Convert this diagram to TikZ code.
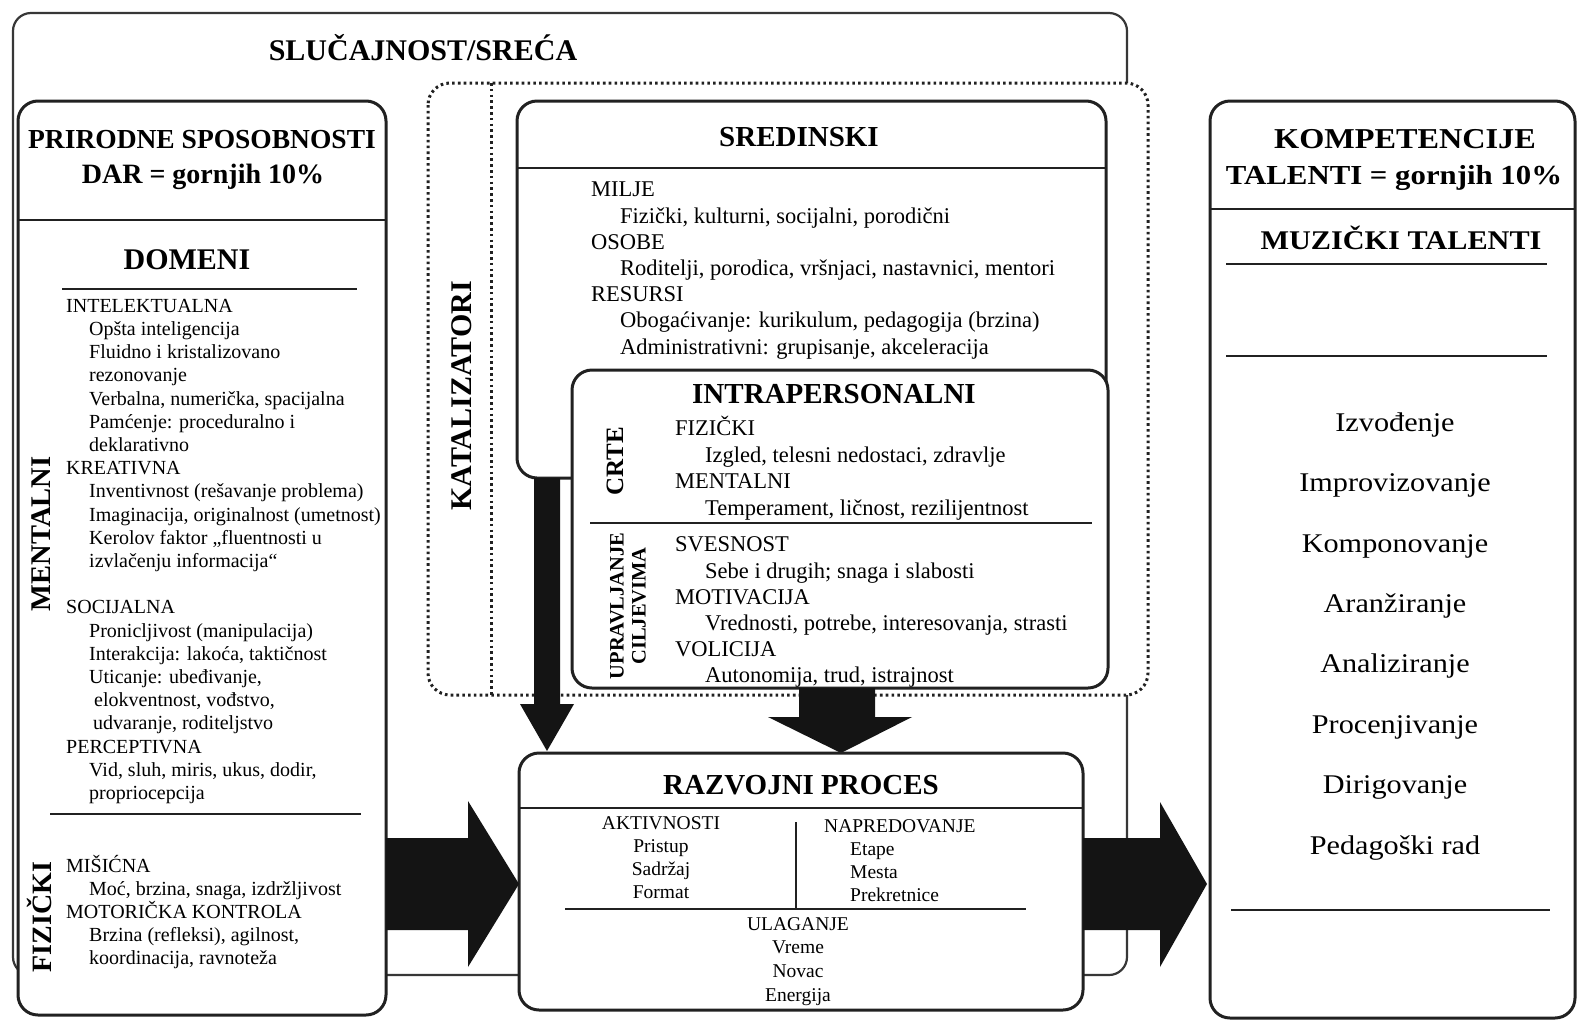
\documentclass[tikz,border=0pt]{standalone}
\usepackage{fontspec}
\setmainfont{Liberation Serif}
\newfontfamily\widefont[FakeStretch=1.12]{Liberation Serif}
\usetikzlibrary{calc}
\definecolor{ink}{gray}{0.13}
\begin{document}
\begin{tikzpicture}[x=1pt,y=-1pt,
  frame/.style={draw=ink, line width=3pt, fill=white, rounded corners=20pt, inner sep=0pt, outer sep=0pt},
  rule/.style={draw=ink, line width=2.6pt},
  thinrule/.style={draw=ink, line width=2pt},
  blockarrow/.style={fill=black!92},
  ttl/.style={font=\bfseries\fontsize{29}{32}\selectfont, anchor=base, inner sep=0pt},
  side/.style={font=\bfseries\fontsize{#1}{#1}\selectfont, rotate=90, anchor=base, inner sep=0pt},
  list/.style 2 args={font=\fontsize{#1}{#2}\selectfont, align=left, anchor=north west, inner sep=0pt},
  clist/.style 2 args={font=\fontsize{#1}{#2}\selectfont, align=center, anchor=north, inner sep=0pt},
]
\useasboundingbox[fill=white] (0,0) rectangle (1580,1021);

% chance: the outermost frame
\draw[draw=ink!90, line width=2.2pt, rounded corners=18pt] (13,13) rectangle (1127,975);
\node[ttl, font=\bfseries\fontsize{30}{32}\selectfont] (chance) at (423,60) {SLUČAJNOST/SREĆA};

% catalysts: dotted frame with its label column
\draw[draw=ink, line width=3pt, dash pattern=on 2.6pt off 3.2pt, fill=white, rounded corners=22pt] (428,83) rectangle (1148,695);
\coordinate (catTop) at (491,83);
\coordinate (catBot) at (491,695);
\draw[draw=ink, line width=3pt, dash pattern=on 2.6pt off 3.2pt] (catTop) -- (catBot);
\node[side=30] (cat) at (471,396) {KATALIZATORI};

% gifts
\node[frame, minimum width=368pt, minimum height=914pt, anchor=north west] (gift) at (18,101) {};
\draw[rule] (gift.west |- 0,220) -- (gift.east |- 0,220);
\node[ttl, font=\bfseries\fontsize{27.5}{32}\selectfont] (giftA) at (202,148.5) {PRIRODNE SPOSOBNOSTI};
\node[ttl, font=\bfseries\fontsize{28}{32}\selectfont] (giftB) at (203,183.5) {DAR = gornjih 10\%};
\node[ttl, font=\bfseries\fontsize{30}{32}\selectfont] (domeni) at (187,269) {DOMENI};
\draw[rule] (62,289) -- (357,289);
\draw[rule] (50,814) -- (361,814);
\node[side=28.5] (mental) at (50.5,534) {MENTALNI};
\node[side=28] (physical) at (51,917) {FIZIČKI};
\node[list={20}{23.2}] (mentalList) at (66,295.8) {\strut INTELEKTUALNA\\
\hspace*{23pt}Opšta inteligencija\\
\hspace*{23pt}Fluidno i kristalizovano\\
\hspace*{23pt}rezonovanje\\
\hspace*{23pt}Verbalna, numerička, spacijalna\\
\hspace*{23pt}Pamćenje: proceduralno i\\
\hspace*{23pt}deklarativno\\
KREATIVNA\\
\hspace*{23pt}Inventivnost (rešavanje problema)\\
\hspace*{23pt}Imaginacija, originalnost (umetnost)\\
\hspace*{23pt}Kerolov faktor „fluentnosti u\\
\hspace*{23pt}izvlačenju informacija“\\
\mbox{}\\
SOCIJALNA\\
\hspace*{23pt}Pronicljivost (manipulacija)\\
\hspace*{23pt}Interakcija: lakoća, taktičnost\\
\hspace*{23pt}Uticanje: ubeđivanje,\\
\hspace*{28pt}elokventnost, vođstvo,\\
\hspace*{27pt}udvaranje, roditeljstvo\\
PERCEPTIVNA\\
\hspace*{23pt}Vid, sluh, miris, ukus, dodir,\\
\hspace*{23pt}propriocepcija};
\node[list={20}{23}] (physList) at (66,855) {\strut MIŠIĆNA\\
\hspace*{23pt}Moć, brzina, snaga, izdržljivost\\
MOTORIČKA KONTROLA\\
\hspace*{23pt}Brzina (refleksi), agilnost,\\
\hspace*{23pt}koordinacija, ravnoteža};

% environmental catalysts
\node[frame, minimum width=589pt, minimum height=377pt, anchor=north west] (env) at (517,101) {};
\draw[rule] (env.west |- 0,168) -- (env.east |- 0,168);
\node[ttl] (envT) at (799,146) {SREDINSKI};
\node[list={22.5}{26.2}] (envList) at (591,178.4) {\strut MILJE\\
\hspace*{29pt}Fizički, kulturni, socijalni, porodični\\
OSOBE\\
\hspace*{29pt}Roditelji, porodica, vršnjaci, nastavnici, mentori\\
RESURSI\\
\hspace*{29pt}Obogaćivanje: kurikulum, pedagogija (brzina)\\
\hspace*{29pt}Administrativni: grupisanje, akceleracija};

% arrow from the environmental box down to the process
\coordinate (envOut) at (547,478);
\coordinate (devInL) at (547,751);
\fill[blockarrow] ($(envOut)+(-13,0)$) -- ($(envOut)+(13,0)$) -- ($(envOut)+(13,226)$) -- ($(envOut)+(27,226)$)
  -- (devInL) -- ($(envOut)+(-27,226)$) -- ($(envOut)+(-13,226)$) -- cycle;

% intrapersonal catalysts
\node[frame, minimum width=536pt, minimum height=318pt, anchor=north west] (intra) at (572,370) {};
\node[ttl] (intraT) at (834,403) {INTRAPERSONALNI};
\draw[thinrule] (590,523) -- (1092,523);
\node[side=25] (traits) at (623,461) {CRTE};
\node[font=\bfseries\fontsize{20.5}{22}\selectfont, rotate=90, align=center, inner sep=0pt] (goals) at (628,606) {UPRAVLJANJE\\CILJEVIMA};
\node[list={22.5}{26.7}] (traitList) at (675,416) {\strut FIZIČKI\\
\hspace*{30pt}Izgled, telesni nedostaci, zdravlje\\
MENTALNI\\
\hspace*{30pt}Temperament, ličnost, rezilijentnost};
\node[list={22.5}{26.2}] (goalList) at (675,533.4) {\strut SVESNOST\\
\hspace*{30pt}Sebe i drugih; snaga i slabosti\\
MOTIVACIJA\\
\hspace*{30pt}Vrednosti, potrebe, interesovanja, strasti\\
VOLICIJA\\
\hspace*{30pt}Autonomija, trud, istrajnost};

% arrow from the intrapersonal box down to the process
\coordinate (intraOut) at (837,688);
\coordinate (devInM) at (841,753);
\fill[blockarrow] ($(intraOut)+(-38,0)$) -- ($(intraOut)+(38,0)$) -- ($(intraOut)+(38,29)$) -- ($(intraOut)+(75,29)$)
  -- (devInM) -- ($(intraOut)+(-69,29)$) -- ($(intraOut)+(-38,29)$) -- cycle;

% developmental process
\node[frame, minimum width=564pt, minimum height=257pt, anchor=north west] (dev) at (519,753) {};
\draw[rule] (dev.west |- 0,808) -- (dev.east |- 0,808);
\node[ttl] (devT) at (801,794) {RAZVOJNI PROCES};
\draw[thinrule] (796,822) -- (796,909);
\draw[rule] (565,909) -- (1026,909);
\node[clist={19.5}{23.3}] (actList) at (661,812.5) {\strut AKTIVNOSTI\\Pristup\\Sadržaj\\Format};
\node[list={19.5}{23.3}] (progList) at (824,815.5) {\strut NAPREDOVANJE\\
\hspace*{26pt}Etape\\
\hspace*{26pt}Mesta\\
\hspace*{26pt}Prekretnice};
\node[clist={19.5}{23.7}] (invList) at (798,913.3) {\strut ULAGANJE\\Vreme\\Novac\\Energija};

% talents
\node[frame, minimum width=365pt, minimum height=917pt, anchor=north west] (talent) at (1210,101) {};
\draw[rule] (talent.west |- 0,209) -- (talent.east |- 0,209);
\node[ttl, font=\widefont\bfseries\fontsize{28.8}{32}\selectfont] (talA) at (1405,148) {KOMPETENCIJE};
\node[ttl, font=\widefont\bfseries\fontsize{27.5}{32}\selectfont] (talB) at (1394,184) {TALENTI = gornjih 10\%};
\node[ttl, font=\widefont\bfseries\fontsize{27}{32}\selectfont] (music) at (1401,249) {MUZIČKI TALENTI};
\draw[rule] (1226,264) -- (1547,264);
\draw[rule] (1226,356) -- (1547,356);
\draw[rule] (1231,910) -- (1550,910);
\node[clist={27}{60.4}, font=\widefont\fontsize{27}{60.4}\selectfont] (musicList) at (1395,388.8) {\strut Izvođenje\\Improvizovanje\\Komponovanje\\Aranžiranje\\Analiziranje\\Procenjivanje\\Dirigovanje\\Pedagoški rad};

% wide arrows: gifts -> process -> talents
\coordinate (giftOut) at (386,884);
\coordinate (devIn) at (519,884);
\fill[blockarrow] ($(giftOut)+(0,-46)$) -- ($(giftOut)+(82,-46)$) -- ($(giftOut)+(82,-83)$) -- (devIn)
  -- ($(giftOut)+(82,83)$) -- ($(giftOut)+(82,46)$) -- ($(giftOut)+(0,46)$) -- cycle;
\coordinate (devOut) at (1083,884);
\coordinate (talIn) at (1207,884);
\fill[blockarrow] ($(devOut)+(0,-46)$) -- ($(devOut)+(77,-46)$) -- ($(devOut)+(77,-82)$) -- (talIn)
  -- ($(devOut)+(77,83)$) -- ($(devOut)+(77,46)$) -- ($(devOut)+(0,46)$) -- cycle;
\end{tikzpicture}
\end{document}
